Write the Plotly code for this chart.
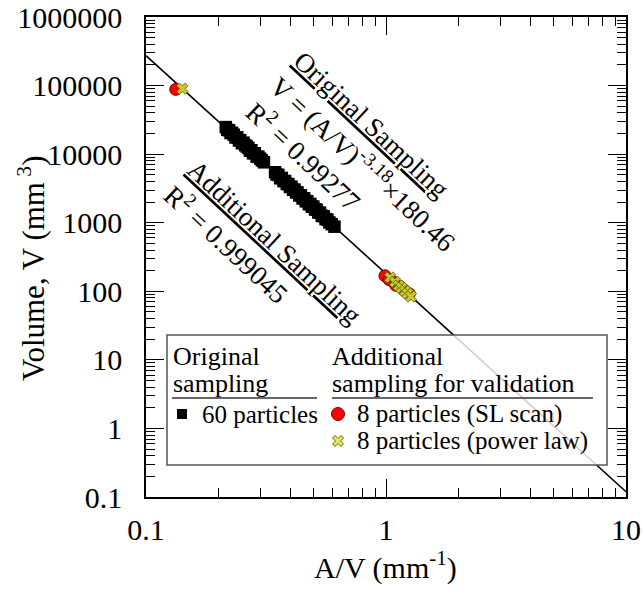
import plotly.graph_objects as go

# ---- data -------------------------------------------------------------
# Original sampling: 60 particles (A/V in mm^-1, volume in mm^3)
orig_av = [0.215, 0.218, 0.222, 0.225, 0.228, 0.232, 0.236, 0.240, 0.244, 0.247,
           0.251, 0.255, 0.259, 0.263, 0.267, 0.271, 0.275, 0.279, 0.284, 0.289,
           0.294, 0.299, 0.304, 0.310,
           0.345, 0.350, 0.356, 0.362, 0.368, 0.374, 0.380, 0.386, 0.392, 0.398,
           0.404, 0.410, 0.416, 0.422, 0.428, 0.435, 0.442, 0.449, 0.456, 0.463,
           0.470, 0.477, 0.484, 0.491, 0.498, 0.506, 0.514, 0.522, 0.531, 0.540,
           0.550, 0.560, 0.570, 0.581, 0.594, 0.610]
orig_vol = [24800, 22600, 22300, 20300, 20500, 19200, 17500, 17600, 15800, 16000,
            14400, 14700, 13500, 12900, 12300, 11200, 11400, 10300, 10300, 9200,
            9200, 8600, 8100, 7600,
            5450, 5050, 4980, 4450, 4500, 4050, 4050, 3680, 3650, 3320,
            3350, 3020, 3040, 2770, 2760, 2510, 2500, 2260, 2270, 2060,
            2060, 1860, 1880, 1710, 1720, 1560, 1550, 1410, 1400, 1260,
            1240, 1130, 1110, 1010, 950, 875]

# Additional sampling for validation: SL scan
sl_av = [0.133, 0.99, 1.03, 1.07, 1.10, 1.15, 1.19, 1.25]
sl_vol = [88000, 168, 148, 138, 122, 116, 104, 92]

# Additional sampling for validation: power law
pl_av = [0.1417, 1.04, 1.09, 1.13, 1.16, 1.20, 1.23, 1.27]
pl_vol = [90100, 159, 137, 121, 112, 101, 93, 84]

# Power-law fit V = (A/V)^FIT_EXP * FIT_COEF
FIT_COEF = 180.46
FIT_EXP = -3.18
fit_av = [0.1, 10]
fit_vol = [FIT_COEF * a ** FIT_EXP for a in fit_av]

x_tickvals = [0.1, 1, 10]
x_ticktext = ["0.1", "1", "10"]
y_tickvals = [0.1, 1, 10, 100, 1000, 10000, 100000, 1000000]
y_ticktext = ["0.1", "1", "10", "100", "1000", "10000", "100000", "1000000"]

# ---- figure -------------------------------------------------------------
FONT = "Liberation Serif, Times New Roman, serif"
W, H = 643, 590
ML, MR, MT, MB = 146, 17, 17, 93
PW, PH = W - ML - MR, H - MT - MB


def px(xp):
    return (xp - ML) / PW


def py(yp):
    return (H - MB - yp) / PH


fig = go.Figure()

fig.add_trace(go.Scatter(x=fit_av, y=fit_vol, mode="lines",
                         line=dict(color="black", width=1.6), hoverinfo="skip"))
fig.add_trace(go.Scatter(x=orig_av, y=orig_vol, mode="markers",
                         marker=dict(symbol="square", size=12.5, color="black",
                                     line=dict(width=0))))
fig.add_trace(go.Scatter(x=sl_av, y=sl_vol, mode="markers",
                         marker=dict(symbol="circle", size=12, color="#ff0000",
                                     line=dict(color="#7a0000", width=1))))
fig.add_trace(go.Scatter(x=pl_av, y=pl_vol, mode="markers",
                         marker=dict(symbol="x", size=10, color="#c8c830",
                                     line=dict(color="#5a5a00", width=0.8))))

axis_common = dict(
    type="log", showgrid=False, zeroline=False, automargin=False,
    showline=True, linecolor="black", linewidth=1.5,
    mirror="allticks", ticks="inside", ticklen=18, tickwidth=1.2,
    tickcolor="black", tickmode="array",
    tickfont=dict(family=FONT, size=30, color="black"),
    minor=dict(ticks="inside", ticklen=9, tickwidth=1.1, tickcolor="black",
               dtick="D1", showgrid=False),
)

fig.update_xaxes(range=[-1, 1], tickvals=x_tickvals, ticktext=x_ticktext,
                 ticklabelstandoff=5, **axis_common)
fig.update_yaxes(range=[-1, 6], tickvals=y_tickvals, ticktext=y_ticktext,
                 ticklabelstandoff=16, **axis_common)

ann = []
# axis titles
ann.append(dict(text="A/V (mm<sup>-1</sup>)", xref="paper", yref="paper",
                x=px(385), y=py(565), showarrow=False,
                font=dict(family=FONT, size=30, color="black"),
                xanchor="center", yanchor="middle"))
ann.append(dict(text="Volume, V (mm<sup> 3</sup>)", xref="paper", yref="paper",
                x=px(31), y=py(268), showarrow=False, textangle=-90,
                font=dict(family=FONT, size=31, color="black"),
                xanchor="center", yanchor="middle"))

# fit labels along the line
ann.append(dict(text="<u>Original Sampling</u><br>V = (A/V)<sup>-3.18</sup>×180.46"
                     "<br>R<sup>2</sup> = 0.99277",
                xref="paper", yref="paper", x=px(362), y=py(164),
                showarrow=False, textangle=43, align="left",
                font=dict(family=FONT, size=27, color="black"),
                xanchor="center", yanchor="middle"))
ann.append(dict(text="<u>Additional Sampling</u><br>R<sup>2</sup> = 0.999045",
                xref="paper", yref="paper", x=px(263), y=py(255),
                showarrow=False, textangle=43, align="left",
                font=dict(family=FONT, size=27, color="black"),
                xanchor="center", yanchor="middle"))

# legend box contents
HEAD_FONT = dict(family=FONT, size=26, color="black")
LEG_FONT = dict(family=FONT, size=25, color="black")
legend_texts = [
    ("Original", 171, 357, HEAD_FONT),
    ("sampling", 171, 383, HEAD_FONT),
    ("Additional", 330, 357, HEAD_FONT),
    ("sampling for validation", 330, 383, HEAD_FONT),
    ("60 particles", 200, 414, LEG_FONT),
    ("8 particles (SL scan)", 355, 414, LEG_FONT),
    ("8 particles (power law)", 355, 441, LEG_FONT),
]
for txt, xp_, yp_, fnt in legend_texts:
    ann.append(dict(text=txt, xref="paper", yref="paper", x=px(xp_), y=py(yp_),
                    showarrow=False, xanchor="left", yanchor="middle",
                    font=fnt))

shapes = [
    dict(type="rect", xref="paper", yref="paper", x0=px(167), x1=px(607),
         y0=py(465), y1=py(335), fillcolor="rgba(255,255,255,0.82)",
         line=dict(color="#555555", width=1.5), layer="above"),
    dict(type="line", xref="paper", yref="paper", x0=px(172), x1=px(317),
         y0=py(398), y1=py(398), line=dict(color="#333333", width=1.5), layer="above"),
    dict(type="line", xref="paper", yref="paper", x0=px(332), x1=px(593),
         y0=py(398), y1=py(398), line=dict(color="#333333", width=1.5), layer="above"),
    # legend keys
    dict(type="rect", xref="paper", yref="paper", xsizemode="pixel", ysizemode="pixel",
         xanchor=px(182), yanchor=py(414), x0=-5, x1=5, y0=-5, y1=5,
         fillcolor="black", line=dict(width=0), layer="above"),
    dict(type="circle", xref="paper", yref="paper", xsizemode="pixel", ysizemode="pixel",
         xanchor=px(338), yanchor=py(414), x0=-6.5, x1=6.5, y0=-6.5, y1=6.5,
         fillcolor="#ff0000", line=dict(color="#7a0000", width=1), layer="above"),
    dict(type="path", xref="paper", yref="paper", xsizemode="pixel", ysizemode="pixel",
         xanchor=px(338), yanchor=py(441),
         path="M0,2.5 L3,5.5 L5.5,3 L2.5,0 L5.5,-3 L3,-5.5 L0,-2.5 L-3,-5.5 L-5.5,-3 "
              "L-2.5,0 L-5.5,3 L-3,5.5 Z",
         fillcolor="#e8e860", line=dict(color="#6a6a00", width=1), layer="above"),
]

fig.update_layout(
    width=W, height=H,
    margin=dict(l=ML, r=MR, t=MT, b=MB, pad=0),
    paper_bgcolor="white", plot_bgcolor="white",
    showlegend=False,
    annotations=ann, shapes=shapes,
    font=dict(family=FONT, color="black"),
)

fig.write_html("out.html")
